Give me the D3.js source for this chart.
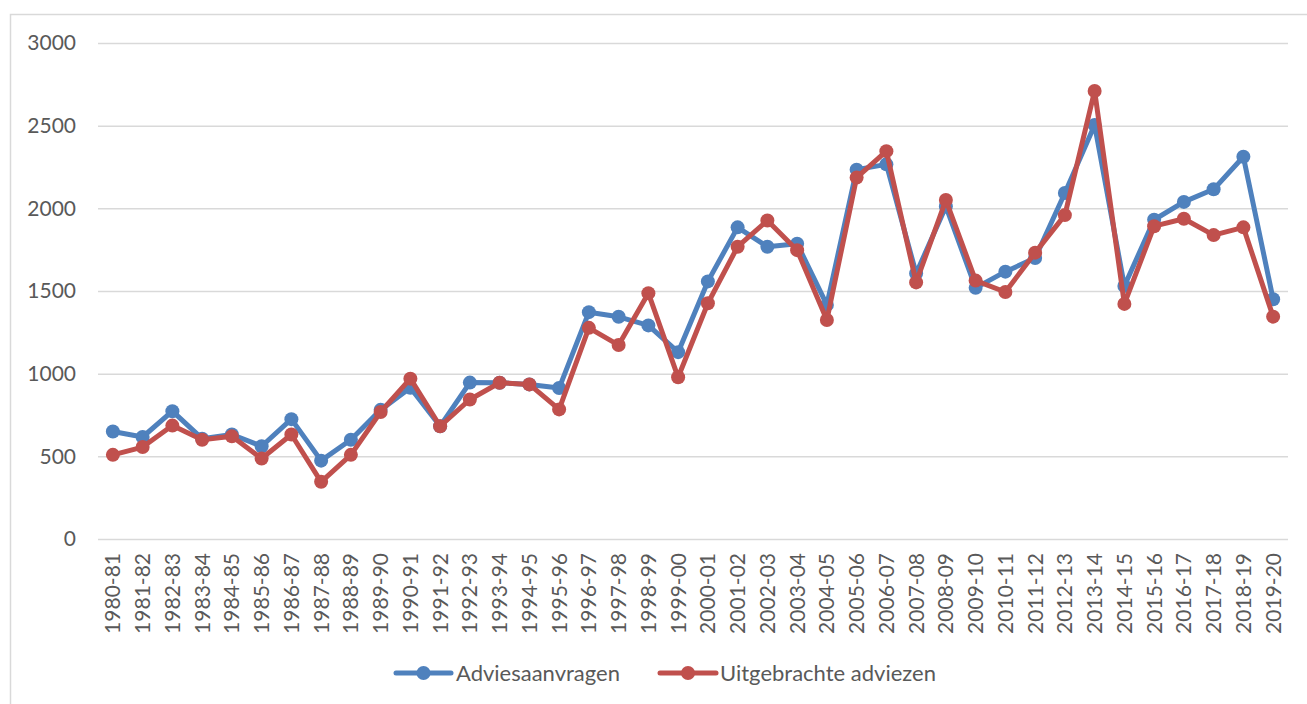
<!DOCTYPE html>
<html>
<head>
<meta charset="utf-8">
<script src="https://cdn.jsdelivr.net/npm/d3@7"></script>
<style>
  body { margin: 0; background: #fff; }
  text { font-family: Lato, "Open Sans", sans-serif; fill: #595959; }
</style>
</head>
<body>
<div id="chart"></div>
<script>
// school years on the horizontal axis
let years = ["1980-81", "1981-82", "1982-83", "1983-84", "1984-85", "1985-86", "1986-87", "1987-88",
  "1988-89", "1989-90", "1990-91", "1991-92", "1992-93", "1993-94", "1994-95", "1995-96", "1996-97",
  "1997-98", "1998-99", "1999-00", "2000-01", "2001-02", "2002-03", "2003-04", "2004-05", "2005-06",
  "2006-07", "2007-08", "2008-09", "2009-10", "2010-11", "2011-12", "2012-13", "2013-14", "2014-15",
  "2015-16", "2016-17", "2017-18", "2018-19", "2019-20"];

let adviesaanvragen = [650, 617, 773, 607, 632, 561, 725, 474, 600, 781, 915, 682, 946, 945, 935, 913,
  1372, 1344, 1292, 1130, 1558, 1885, 1768, 1786, 1416, 2234, 2266, 1606, 2011, 1519, 1617, 1699,
  2093, 2504, 1530, 1931, 2039, 2115, 2312, 1450];

let uitgebracht = [509, 556, 686, 600, 621, 487, 632, 346, 509, 768, 970, 682, 844, 945, 935, 784,
  1277, 1173, 1487, 978, 1426, 1768, 1926, 1747, 1325, 2186, 2346, 1552, 2050, 1563, 1494, 1732,
  1959, 2710, 1422, 1892, 1937, 1838, 1885, 1345];

let yTicks = [0, 500, 1000, 1500, 2000, 2500, 3000];

let seriesNames = ["Adviesaanvragen", "Uitgebrachte adviezen"];
let seriesColors = ["#4f81bd", "#c0504d"];

let svgWidth = 1307;
let svgHeight = 704;

let plot = { left: 98, right: 1288, top: 43, bottom: 539 };

let svg = d3.select("#chart")
  .append("svg")
  .attr("width", svgWidth)
  .attr("height", svgHeight);

// outer chart border, runs off the right and bottom edge
svg.append("rect")
  .attr("x", 10.5)
  .attr("y", 14.5)
  .attr("width", 1320)
  .attr("height", 720)
  .attr("fill", "none")
  .attr("stroke", "#d9d9d9")
  .attr("stroke-width", 1.5);

let xScale = d3.scaleBand()
  .domain(years)
  .range([plot.left, plot.right]);

let yScale = d3.scaleLinear()
  .domain([0, 3000])
  .range([plot.bottom, plot.top]);

// y axis with gridlines
let leftAxis = d3.axisLeft(yScale)
  .tickValues(yTicks)
  .tickSize(-(plot.right - plot.left))
  .tickPadding(22)
  .tickFormat(d3.format("d"));

let yAxis = svg.append("g")
  .attr("transform", `translate(${plot.left},0)`)
  .call(leftAxis);
yAxis.select(".domain").remove();
yAxis.selectAll("line")
  .attr("stroke", "#d9d9d9")
  .attr("stroke-width", 1.5);
yAxis.selectAll("text")
  .style("font-size", "21px")
  .style("font-family", "Lato, sans-serif")
  .attr("fill", "#595959");

// x axis, rotated labels
let bottomAxis = d3.axisBottom(xScale).tickSize(0);
let xAxis = svg.append("g")
  .attr("transform", `translate(0,${plot.bottom})`)
  .call(bottomAxis);
xAxis.select(".domain").remove();
xAxis.selectAll("text")
  .attr("transform", "rotate(-90)")
  .attr("x", -14)
  .attr("y", 0)
  .attr("dy", "0.36em")
  .style("text-anchor", "end")
  .style("font-size", "21px")
  .style("font-family", "Lato, sans-serif")
  .attr("fill", "#595959");

let cx = d => xScale(d) + xScale.bandwidth() / 2;

let line = d3.line()
  .x(d => cx(d.year))
  .y(d => yScale(d.value));

[adviesaanvragen, uitgebracht].forEach(function(values, i) {
  let data = years.map((y, j) => ({ year: y, value: values[j] }));

  svg.append("path")
    .datum(data)
    .attr("fill", "none")
    .attr("stroke", seriesColors[i])
    .attr("stroke-width", 5)
    .attr("stroke-linejoin", "round")
    .attr("d", line);

  svg.selectAll(".dot" + i)
    .data(data)
    .enter().append("circle")
    .attr("class", "dot" + i)
    .attr("cx", d => cx(d.year))
    .attr("cy", d => yScale(d.value))
    .attr("r", 7)
    .attr("fill", seriesColors[i]);
});

// legend
let legendY = 673;
let legendItems = [
  { x1: 396, x2: 451, tx: 456 },
  { x1: 660, x2: 716, tx: 720 }
];
legendItems.forEach(function(item, i) {
  let g = svg.append("g");
  g.append("line")
    .attr("x1", item.x1)
    .attr("x2", item.x2)
    .attr("y1", legendY)
    .attr("y2", legendY)
    .attr("stroke", seriesColors[i])
    .attr("stroke-width", 5)
    .attr("stroke-linecap", "round");
  g.append("circle")
    .attr("cx", (item.x1 + item.x2) / 2)
    .attr("cy", legendY)
    .attr("r", 7)
    .attr("fill", seriesColors[i]);
  g.append("text")
    .attr("x", item.tx)
    .attr("y", legendY)
    .attr("dy", "0.35em")
    .style("font-size", "22px")
    .text(seriesNames[i]);
});
</script>
</body>
</html>
